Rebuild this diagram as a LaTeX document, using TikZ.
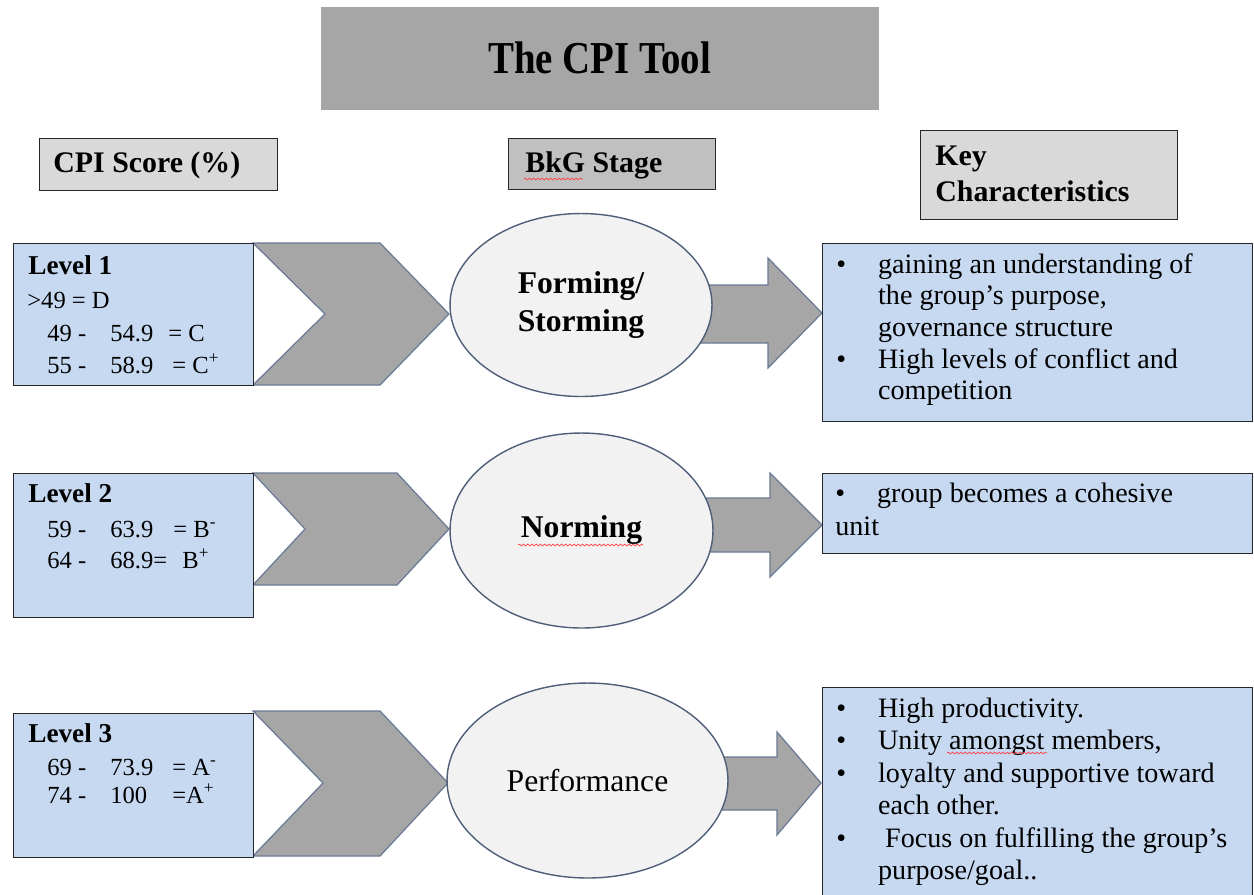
\documentclass[tikz,border=0pt]{standalone}
\usepackage{graphicx}
\usepackage{fontspec}
\setmainfont{Liberation Serif}
\usetikzlibrary{shapes.geometric,decorations.pathmorphing}
\definecolor{titlegray}{HTML}{A6A6A6}
\definecolor{hdrgray}{HTML}{D9D9D9}
\definecolor{bkggray}{HTML}{C0C0C0}
\definecolor{lvlblue}{HTML}{C6D9F1}
\definecolor{chevfill}{HTML}{A6A6A6}
\definecolor{chevedge}{HTML}{6A7A94}
\definecolor{ellfill}{HTML}{F2F2F2}
\definecolor{elledge}{HTML}{4F5F78}
\newcommand\mybul{\makebox[23.8pt][l]{\textbullet}}
\newcommand\myind{\hspace*{23.8pt}}
\newcommand\numrow[7]{%
  \node[numtxt] (#1a) at (47,#2) {#3};
  \node[numtxt] (#1b) at (110,#2) {#4};
  \node[numtxt] (#1c) at (#6,#2) {#5};}
\begin{document}
\begin{tikzpicture}[x=0.02cm,y=-0.02cm,
  box/.style={draw=black!85, line width=0.8pt, inner sep=0pt, anchor=north west},
  hdrtxt/.style={font=\bfseries\fontsize{17}{20}\selectfont, inner sep=0pt, anchor=base west},
  lvltxt/.style={font=\bfseries\fontsize{15.5}{18}\selectfont, inner sep=0pt, anchor=base west},
  numtxt/.style={font=\fontsize{14}{17}\selectfont, inner sep=0pt, anchor=base west},
  keytxt/.style={align=left, inner sep=0pt, anchor=north west},
  chev/.style={fill=chevfill, draw=chevedge, line width=0.7pt, line join=miter},
  stage/.style={ellipse, draw=elledge, fill=ellfill, line width=0.8pt, inner sep=0pt, align=center},
  wavy/.style={draw=red!75, line width=0.4pt, decorate, decoration={snake, amplitude=0.5pt, segment length=2.4pt}}]
\useasboundingbox (0,0) rectangle (1254,894);
\fill[white] (0,0) rectangle (1254,894);

% headers
\node[box, fill=titlegray, draw=none, minimum width=11.16cm, minimum height=2.06cm] (title) at (320,6) {};
\node[font=\bfseries\fontsize{26}{30}\selectfont, inner sep=0pt] (titletxt) at (title.center) {\scalebox{0.85}[1]{The CPI Tool}};
\node[box, fill=hdrgray, minimum width=4.76cm, minimum height=1.04cm] (cpi) at (39,138) {};
\node[hdrtxt] (cpitxt) at (53,172) {CPI Score (\%)};
\node[box, fill=bkggray, minimum width=4.14cm, minimum height=1.02cm] (bkg) at (508,138) {};
\node[hdrtxt] (bkgtxt) at (525,172) {BkG Stage};
\node[box, fill=hdrgray, minimum width=5.14cm, minimum height=1.78cm] (key) at (920,130) {};
\node[hdrtxt] (keytxt1) at (935,165) {Key};
\node[hdrtxt] (keytxt2) at (935,201) {Characteristics};

% chevrons
\draw[chev] (253,243) -- (380,243) -- (449,314) -- (380,385) -- (253,385) -- (325,314) -- cycle;
\draw[chev] (253,473) -- (397,473) -- (449,529) -- (397,585) -- (253,585) -- (305,529) -- cycle;
\draw[chev] (253,711) -- (380,711) -- (448,783) -- (380,856) -- (253,856) -- (323,783) -- cycle;

% level boxes
\node[box, fill=lvlblue, minimum width=4.8cm, minimum height=2.84cm] (L1) at (13,243) {};
\node[box, fill=lvlblue, minimum width=4.8cm, minimum height=2.88cm] (L2) at (13,473) {};
\node[box, fill=lvlblue, minimum width=4.8cm, minimum height=2.88cm] (L3) at (13,713) {};

\node[lvltxt] (l1t) at (28,274) {Level 1};
\node[numtxt] (l1d) at (27,308) {>49 = D};
\numrow{l1c}{341}{49 -}{54.9}{= C}{168}{}
\numrow{l1p}{373}{55 -}{58.9}{= C\textsuperscript{+}}{172}{}
\node[lvltxt] (l2t) at (28,502) {Level 2};
\numrow{l2m}{537}{59 -}{63.9}{= B\textsuperscript{-}}{173}{}
\numrow{l2p}{568}{64 -}{68.9=}{B\textsuperscript{+}}{182}{}
\node[lvltxt] (l3t) at (28,742) {Level 3};
\numrow{l3m}{775}{69 -}{73.9}{= A\textsuperscript{-}}{172}{}
\numrow{l3p}{803}{74 -}{100}{=A\textsuperscript{+}}{172}{}

% block arrows
\draw[chev] (700,285) -- (768,285) -- (768,258) -- (822,313) -- (768,368) -- (768,343) -- (700,343) -- cycle;
\draw[chev] (700,498) -- (770,498) -- (770,473) -- (822,525) -- (770,577) -- (770,552) -- (700,552) -- cycle;
\draw[chev] (715,757) -- (777,757) -- (777,732) -- (821,783) -- (777,835) -- (777,810) -- (715,810) -- cycle;

% stages
\node[stage, minimum width=5.24cm, minimum height=3.66cm, font=\bfseries\fontsize{18}{21.5}\selectfont] (e1) at (581,305) {Forming/\\Storming};
\node[stage, minimum width=5.26cm, minimum height=3.9cm, font=\bfseries\fontsize{18}{21.5}\selectfont] (e2) at (581.5,530.5) {Norming};
\node[stage, minimum width=5.62cm, minimum height=3.9cm, font=\fontsize{18}{21.5}\selectfont] (e3) at (587.5,780.5) {Performance};

% characteristic boxes
\node[box, fill=lvlblue, minimum width=8.6cm, minimum height=3.56cm] (K1) at (822,243) {};
\node[box, fill=lvlblue, minimum width=8.6cm, minimum height=1.6cm] (K2) at (822,473) {};
\node[box, fill=lvlblue, minimum width=8.6cm, minimum height=4.26cm] (K3) at (822,687) {};

\node[keytxt, font=\fontsize{16}{18}\selectfont] (k1t) at (836,250.8) {%
\mybul\strut gaining an understanding of\\
\myind the group's purpose,\\
\myind governance structure\\
\mybul High levels of conflict and\\
\myind competition};
\node[keytxt, font=\fontsize{16}{18.7}\selectfont] (k2t) at (835,478.9) {%
\mybul\strut group becomes a cohesive\\
unit};
\node[keytxt, font=\fontsize{16}{18.5}\selectfont] (k3t) at (836,694.2) {%
\mybul\strut High productivity.\\
\mybul Unity amongst members,\\
\mybul loyalty and supportive toward\\
\myind each other.\\
\mybul\ Focus on fulfilling the group's\\
\myind purpose/goal..};

% spell-check marks
\draw[wavy] (524,179) -- (583,179);
\draw[wavy] (518,545) -- (643,545);
\draw[wavy] (947,753) -- (1047,753);
\end{tikzpicture}
\end{document}
